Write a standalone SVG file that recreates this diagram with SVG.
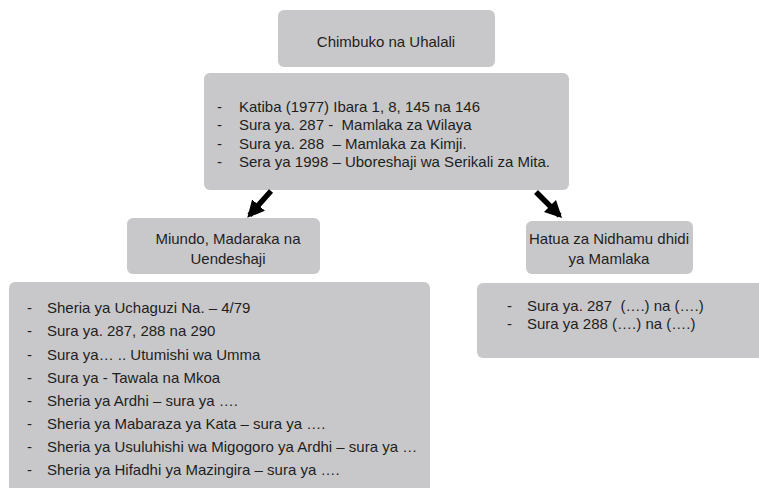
<svg xmlns="http://www.w3.org/2000/svg" width="759" height="488" viewBox="0 0 759 488">
<defs>
<style>
.box{fill:#c8c8ca;}
.t{font-family:"Liberation Sans",Arial,sans-serif;font-size:15px;fill:#1e1e1e;white-space:pre;}
.c{text-anchor:middle;}
.arr{stroke:#000;stroke-width:5.5;fill:none;}
</style>
<marker id="ah" viewBox="0 0 10 10" refX="8" refY="5" markerWidth="3.1" markerHeight="3.1" orient="auto" markerUnits="strokeWidth">
<path d="M0,0 L10,5 L0,10 z" fill="#000"/>
</marker>
</defs>
<rect width="759" height="488" fill="#fff"/>
<g id="n1">
<rect class="box" x="278" y="10" width="217" height="57" rx="6"/>
<text class="t c" x="386" y="47">Chimbuko na Uhalali</text>
</g>
<g id="n2">
<rect class="box" x="204" y="73" width="365" height="117" rx="6"/>
<text class="t" x="217" y="112">-</text><text class="t" x="239" y="112">Katiba (1977) Ibara 1, 8, 145 na 146</text>
<text class="t" x="217" y="130">-</text><text class="t" x="239" y="130">Sura ya. 287 -  Mamlaka za Wilaya</text>
<text class="t" x="217" y="148.5">-</text><text class="t" x="239" y="148.5">Sura ya. 288  – Mamlaka za Kimji.</text>
<text class="t" x="217" y="167">-</text><text class="t" x="239" y="167">Sera ya 1998 – Uboreshaji wa Serikali za Mita.</text>
</g>
<g id="n3">
<rect class="box" x="127" y="218" width="193" height="56" rx="6"/>
<text class="t c" x="228" y="243.5">Miundo, Madaraka na</text>
<text class="t c" x="228" y="264">Uendeshaji</text>
</g>
<g id="n4">
<rect class="box" x="526" y="221" width="167" height="53" rx="6"/>
<text class="t c" x="609" y="243.5">Hatua za Nidhamu dhidi</text>
<text class="t c" x="609" y="264">ya Mamlaka</text>
</g>
<g id="n5">
<rect class="box" x="9" y="282" width="421" height="220" rx="6"/>
<text class="t" x="27" y="313">-</text><text class="t" x="47" y="313">Sheria ya Uchaguzi Na. – 4/79</text>
<text class="t" x="27" y="336">-</text><text class="t" x="47" y="336">Sura ya. 287, 288 na 290</text>
<text class="t" x="27" y="359.5">-</text><text class="t" x="47" y="359.5">Sura ya… .. Utumishi wa Umma</text>
<text class="t" x="27" y="382.5">-</text><text class="t" x="47" y="382.5">Sura ya - Tawala na Mkoa</text>
<text class="t" x="27" y="406">-</text><text class="t" x="47" y="406">Sheria ya Ardhi – sura ya ….</text>
<text class="t" x="27" y="429">-</text><text class="t" x="47" y="429">Sheria ya Mabaraza ya Kata – sura ya ….</text>
<text class="t" x="27" y="452">-</text><text class="t" x="47" y="452">Sheria ya Usuluhishi wa Migogoro ya Ardhi – sura ya …</text>
<text class="t" x="27" y="475">-</text><text class="t" x="47" y="475">Sheria ya Hifadhi ya Mazingira – sura ya ….</text>
</g>
<g id="n6">
<rect class="box" x="477" y="283" width="290" height="75" rx="6"/>
<text class="t" x="507" y="311">-</text><text class="t" x="527" y="311">Sura ya. 287  (….) na (….)</text>
<text class="t" x="507" y="329">-</text><text class="t" x="527" y="329">Sura ya 288 (….) na (….)</text>
</g>
<g id="connectors">
<line class="arr" x1="271" y1="191" x2="249.5" y2="215.3" marker-end="url(#ah)"/>
<line class="arr" x1="536" y1="192" x2="559.6" y2="215.6" marker-end="url(#ah)"/>
</g>
</svg>
